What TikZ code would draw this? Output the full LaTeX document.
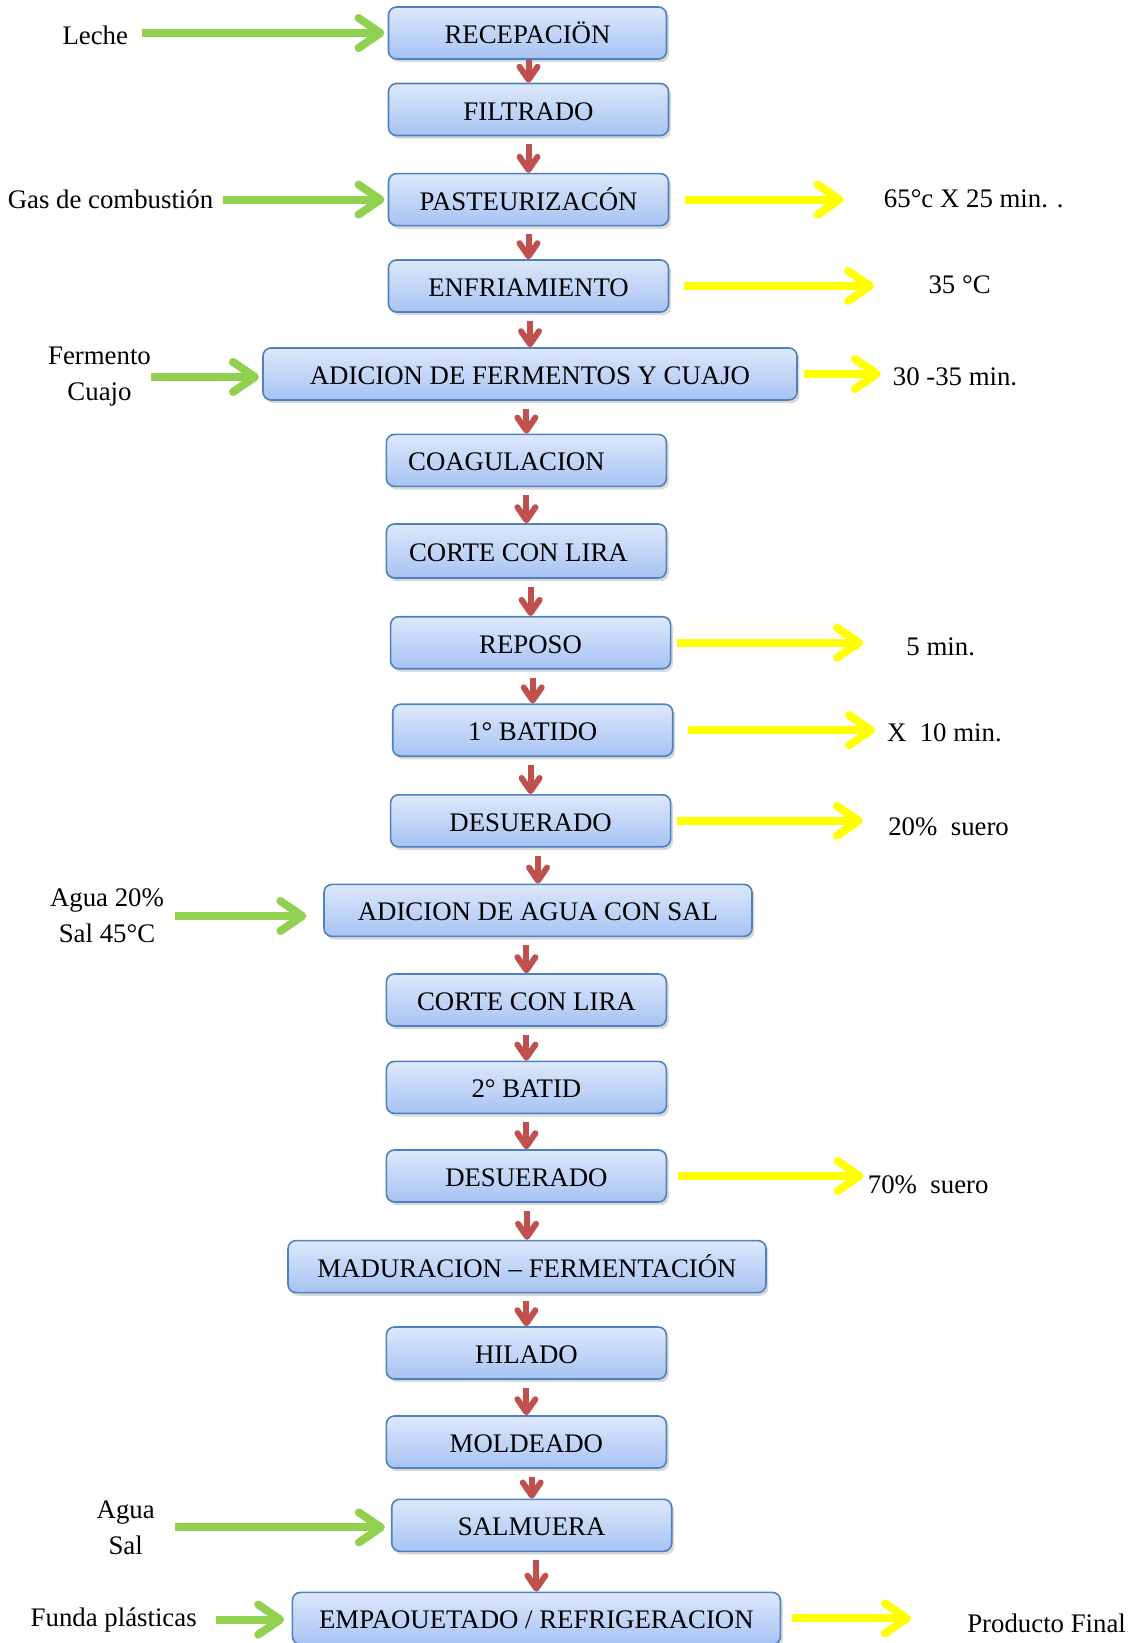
\documentclass[tikz,border=0pt]{standalone}
\usepackage{fontspec}
\setmainfont{Liberation Serif}
\usetikzlibrary{arrows.meta,shadows}
\definecolor{boxtop}{HTML}{DDE8FB}
\definecolor{boxbot}{HTML}{A7C3F3}
\definecolor{boxline}{HTML}{4F81BD}
\definecolor{ingreen}{HTML}{92D050}
\definecolor{outyellow}{HTML}{FFFF00}
\definecolor{stepred}{HTML}{C0504D}

\begin{document}
\begin{tikzpicture}[x=0.5pt, y=-0.5pt, font=\fontsize{13.4}{18}\selectfont,
  proc/.style={draw=boxline, line width=0.8pt, rounded corners=4pt, top color=boxtop, bottom color=boxbot,
    minimum width=140pt, minimum height=26pt, inner sep=0pt, text height=10.5pt, text depth=0pt,
    drop shadow={opacity=0.3, shadow xshift=1.2pt, shadow yshift=-1.6pt}},
  side/.style={inner sep=0pt, align=center},
  down/.style={draw=stepred, line width=3pt, -{Straight Barb[length=6.5pt, width=9pt, round]}, shorten <=4pt},
  inp/.style={draw=ingreen, line width=4pt, -{Straight Barb[length=11pt, width=15pt, round]}},
  outp/.style={draw=outyellow, line width=4pt, -{Straight Barb[length=11pt, width=15pt, round]}}]
  \useasboundingbox (0,0) rectangle (1144,1643);
  \node[proc, minimum width=139pt] (rec) at (527.5,33) {RECEPACIÖN};
  \node[proc] (fil) at (528.5,109.5) {FILTRADO};
  \node[proc] (pas) at (528.5,199.6) {PASTEURIZACÓN};
  \node[proc] (enf) at (528.5,286) {ENFRIAMIENTO};
  \node[proc, minimum width=267pt] (adf) at (530,374) {ADICION DE FERMENTOS Y CUAJO};
  \node[proc] (coa) at (526.4,460.4) {\hspace*{-20pt}COAGULACION};
  \node[proc, minimum height=27pt] (co1) at (526.4,551) {\hspace*{-8pt}CORTE CON LIRA};
  \node[proc] (rep) at (530.6,642.7) {REPOSO};
  \node[proc] (ba1) at (532.7,730.2) {1° BATIDO};
  \node[proc] (de1) at (530.6,820.8) {DESUERADO};
  \node[proc, minimum width=214pt] (ada) at (538,910.4) {ADICION DE AGUA CON SAL};
  \node[proc] (co2) at (526.4,1000) {CORTE CON LIRA};
  \node[proc] (ba2) at (526.4,1087.4) {2° BATID};
  \node[proc] (de2) at (526.4,1176) {DESUERADO};
  \node[proc, minimum width=239pt] (mad) at (527,1266.6) {MADURACION \textendash{} FERMENTACIÓN};
  \node[proc] (hil) at (526.4,1353) {HILADO};
  \node[proc] (mol) at (526.4,1442) {MOLDEADO};
  \node[proc] (sal) at (531.7,1525.3) {SALMUERA};
  \node[proc, minimum width=244pt] (emp) at (536.4,1618.4) {EMPAOUETADO / REFRIGERACION};

  \draw[down, shorten <=0pt] (rec.south -| fil.north) -- (fil.north);
  \foreach \a/\b in {fil/pas, pas/enf, enf/adf, adf/coa, coa/co1, co1/rep, rep/ba1, ba1/de1,
    de1/ada, ada/co2, co2/ba2, ba2/de2, de2/mad, mad/hil, hil/mol, mol/sal, sal/emp}
    \draw[down] (\a.south -| \b.north) -- (\b.north);

  \node[side] (leche) at (95.3,35.6) {Leche};
  \node[side] (gas) at (110.5,199) {Gas de combustión};
  \node[side] (ferm) at (99.5,377) {Fermento\\Cuajo};
  \node[side] (agu) at (107,916) {Agua 20\%\\Sal 45°C};
  \node[side] (aguasal) at (125.7,1527.4) {Agua\\Sal};
  \node[side] (funda) at (113.7,1619.6) {Funda plásticas};

  \draw[inp, shorten <=6.8pt, shorten >=1.6pt] (rec.west -| leche.east) -- (rec.west);
  \draw[inp, shorten <=4.7pt, shorten >=1.6pt] (pas.west -| gas.east) -- (pas.west);
  \draw[inp, shorten >=1.6pt] (ferm.east) -- (ferm.east -| adf.west);
  \draw[inp, shorten <=5.2pt, shorten >=8.4pt] (agu.east) -- (agu.east -| ada.west);
  \draw[inp, shorten <=10pt, shorten >=3pt] (aguasal.east) -- (aguasal.east -| sal.west);
  \draw[inp, shorten <=9.4pt, shorten >=3.7pt] (funda.east) -- (funda.east -| emp.west);

  \node[side] (t65) at (973.8,199) {65°c X 25 min. .};
  \node[side] (t35) at (959.6,285) {35 °C};
  \node[side] (t30) at (955,377) {30 -35 min.};
  \node[side] (t5) at (940.7,646.4) {5 min.};
  \node[side] (tx10) at (944.4,733) {X\ \ 10 min.};
  \node[side] (t20) at (948.6,826.6) {20\%\ \ suero};
  \node[side] (t70) at (928.2,1184.9) {70\%\ \ suero};
  \node[side] (tprod) at (1046.6,1623.8) {Producto Final};

  \draw[outp, shorten <=7.9pt, shorten >=20pt] (pas.east) -- (pas.east -| t65.west);
  \draw[outp, shorten <=7.3pt, shorten >=27pt] (enf.east) -- (enf.east -| t35.west);
  \draw[outp, shorten <=3pt, shorten >=5.8pt] (adf.east) -- (adf.east -| t30.west);
  \draw[outp, shorten <=2.6pt, shorten >=21.5pt] (rep.east) -- (rep.east -| t5.west);
  \draw[outp, shorten <=7.3pt, shorten >=5.8pt] (ba1.east) -- (ba1.east -| tx10.west);
  \draw[outp, shorten <=3pt, shorten >=12.6pt] (de1.east) -- (de1.east -| t20.west);
  \draw[outp, shorten <=5.2pt, shorten >=2pt] (de2.east) -- (de2.east -| t70.west);
  \draw[outp, shorten <=5.2pt, shorten >=28pt] (emp.east) -- (emp.east -| tprod.west);
\end{tikzpicture}
\end{document}
